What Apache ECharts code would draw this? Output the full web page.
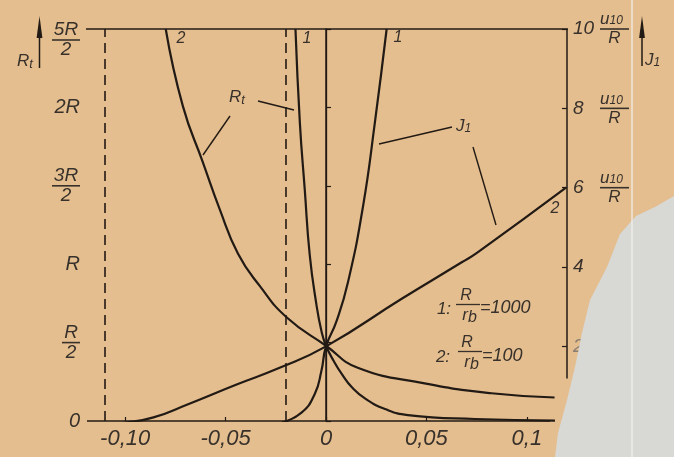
<!DOCTYPE html>
<html>
<head>
<meta charset="utf-8">
<script src="https://cdn.jsdelivr.net/npm/echarts@6/dist/echarts.min.js"></script>
<style>
  html, body { margin: 0; padding: 0; background: #e4be8f; }
  #chart { width: 674px; height: 457px; }
</style>
</head>
<body>
<div id="chart"></div>
<script>
// Bias axis ticks (V)
const xTicks = [-0.10, -0.05, 0, 0.05, 0.1];
const xTickLabels = ['-0,10', '-0,05', '0', '0,05', '0,1'];

// Left axis: R_t in units of R
const rTicks = [0, 0.5, 1, 1.5, 2, 2.5];
const rTickNum = ['0', 'R', 'R', '3R', '2R', '5R'];
const rTickDen = ['', '2', '', '2', '', '2'];

// Right axis: J_1 in units of u10/R
const jTicks = [2, 4, 6, 8, 10];
const jTickLabels = ['2', '4', '6', '8', '10'];
const jTickUnit = [false, false, true, true, true];

// Marked bias values (dashed verticals)
const dashedX = [-0.112, -0.0229];

// R_t curves, [bias, R_t / R]
const rtCurve1 = [[-0.0152, 2.5], [-0.0130, 1.90], [-0.0106, 1.48], [-0.0081, 1.06], [-0.0048, 0.745],
  [-0.0023, 0.575], [0, 0.48], [0.0040, 0.379], [0.0080, 0.297], [0.0129, 0.215], [0.0199, 0.139],
  [0.0294, 0.076], [0.0408, 0.038], [0.0742, 0.0126], [0.114, 0.003]];
const rtCurve2 = [[-0.0798, 2.5], [-0.0713, 2.01], [-0.0613, 1.65], [-0.0529, 1.35], [-0.0438, 1.067],
  [-0.0329, 0.86], [-0.0195, 0.66], [0, 0.48], [0.0158, 0.34], [0.0491, 0.24], [0.0824, 0.177], [0.1138, 0.15]];

// J_1 curves, [bias, J_1 in u10/R]
const jCurve1 = [[-0.022, 0.08], [-0.0122, 0.33], [-0.0056, 0.8], [-0.0023, 1.38], [0, 2.0],
  [0.0052, 2.63], [0.011, 3.63], [0.0185, 5.55], [0.0243, 7.63], [0.0302, 10.0]];
const jCurve2 = [[-0.112, 0.02], [-0.0997, 0.08], [-0.0859, 0.21], [-0.0693, 0.53], [-0.0445, 1.04],
  [-0.0231, 1.46], [0, 2.0], [0.0377, 3.2], [0.0676, 4.12], [0.0755, 4.37], [0.1195, 6.0]];

const INK = '#221a14';
const TEXT = '#38312b';
const FONT = '"Liberation Sans", Arial, sans-serif';
const PAPER = '#e4be8f';

const chart = echarts.init(document.getElementById('chart'), null, { renderer: 'canvas' });

function curve(name, data, yAxisIndex) {
  return {
    name, type: 'line', data, yAxisIndex,
    showSymbol: false, smooth: 0.5, clip: true,
    lineStyle: { color: INK, width: 2.2 }, silent: true, animation: false
  };
}

const rtRich = {
  s:   { fontFamily: FONT, fontStyle: 'italic', fontSize: 20, color: TEXT, lineHeight: 20 },
  nA:  { fontFamily: FONT, fontStyle: 'italic', fontSize: 19, color: TEXT, lineHeight: 16, width: 18, align: 'center' },
  nB:  { fontFamily: FONT, fontStyle: 'italic', fontSize: 19, color: TEXT, lineHeight: 16, width: 28, align: 'center' },
  barA: { width: 18, height: 1.6, lineHeight: 4, backgroundColor: TEXT },
  barB: { width: 28, height: 1.6, lineHeight: 4, backgroundColor: TEXT },
  top: { height: 22, lineHeight: 22, width: 1 }
};

const jRich = {
  v:   { fontFamily: FONT, fontStyle: 'italic', fontSize: 19, color: TEXT, width: 27, lineHeight: 4 },
  vf:  { fontFamily: FONT, fontStyle: 'italic', fontSize: 19, color: '#8a7e72', width: 27 },
  vs:  { width: 27, lineHeight: 15 },
  u:   { fontFamily: FONT, fontStyle: 'italic', fontSize: 17, color: TEXT, lineHeight: 15 },
  sub: { fontFamily: FONT, fontStyle: 'italic', fontSize: 12, color: TEXT, lineHeight: 15, verticalAlign: 'bottom' },
  bar: { width: 29, height: 1.6, lineHeight: 4, backgroundColor: TEXT },
  d:   { fontFamily: FONT, fontStyle: 'italic', fontSize: 17, color: TEXT, lineHeight: 15, width: 29, align: 'center' }
};

const option = {
  animation: false,
  backgroundColor: PAPER,
  grid: { left: 87, top: 25, right: 107, bottom: 36, containLabel: false },
  xAxis: {
    type: 'value', min: -0.119, max: 0.12,
    axisLine: { show: false },
    splitLine: { show: false },
    axisTick: { show: true, inside: true, length: 4, customValues: xTicks, lineStyle: { color: INK, width: 1.2 } },
    axisLabel: {
      customValues: xTicks, margin: 7,
      fontFamily: FONT, fontStyle: 'italic', fontSize: 22, color: TEXT,
      formatter: v => {
        const i = xTicks.findIndex(t => Math.abs(t - v) < 1e-9);
        return i >= 0 ? xTickLabels[i] : '';
      }
    }
  },
  yAxis: [
    {
      type: 'value', min: 0, max: 2.5, interval: 0.5,
      axisLine: { show: true, lineStyle: { color: INK, width: 1.5 } },
      splitLine: { show: false },
      axisTick: { show: true, inside: true, length: 5, lineStyle: { color: INK, width: 1.2 } },
      axisLabel: {
        margin: 7, rich: rtRich,
        formatter: v => {
          const i = rTicks.findIndex(t => Math.abs(t - v) < 1e-9);
          if (i < 0) return '';
          const num = rTickNum[i], den = rTickDen[i];
          if (!den) return '{s|' + num + '}';
          const k = num.length > 1 ? 'B' : 'A';
          const body = '{n' + k + '|' + num + '}\n{bar' + k + '|}\n{n' + k + '|' + den + '}';
          return i === rTicks.length - 1 ? '{top|}\n' + body : body;
        }
      }
    },
    {
      type: 'value', min: 0.12, max: 10, position: 'right',
      axisLine: { show: false },
      splitLine: { show: false },
      axisTick: { show: true, inside: true, length: 5, customValues: jTicks, lineStyle: { color: INK, width: 1.2 } },
      axisLabel: {
        customValues: jTicks, margin: 6, rich: jRich,
        formatter: v => {
          const i = jTicks.findIndex(t => Math.abs(t - v) < 1e-9);
          if (i < 0) return '';
          if (!jTickUnit[i]) return (i === 0 ? '{vf|' : '{v|') + jTickLabels[i] + '}';
          return '{vs|}{u|u}{sub|10}\n{v|' + jTickLabels[i] + '}{bar|}\n{vs|}{d|R}';
        }
      }
    }
  ],
  series: [
    Object.assign(curve('Rt1', rtCurve1, 0), {
      markLine: {
        silent: true, symbol: 'none', label: { show: false }, animation: false,
        data: [
          { xAxis: 0, lineStyle: { color: INK, width: 1.3, type: 'solid' } },
          ...dashedX.map(x => ({ xAxis: x, lineStyle: { color: INK, width: 1.6, type: [10, 6] } }))
        ]
      }
    }),
    curve('Rt2', rtCurve2, 0),
    curve('J1_1', jCurve1, 1),
    curve('J1_2', jCurve2, 1)
  ]
};

chart.setOption(option);

// Frame, annotations, axis titles
const P = (x, y) => chart.convertToPixel({ xAxisIndex: 0, yAxisIndex: 0 }, [x, y]);
const PJ = (x, y) => chart.convertToPixel({ xAxisIndex: 0, yAxisIndex: 1 }, [x, y]);
const topL = P(-0.119, 2.5), topR = P(0.12, 2.5);
const botL = P(-0.119, 0), botR = P(0.1116, 0);
const rTop = PJ(0.12, 10), rBot = PJ(0.12, 1.19);

const lineEl = (x1, y1, x2, y2, w, color) => ({
  type: 'line', silent: true, z: 50,
  shape: { x1, y1, x2, y2 }, style: { stroke: color || INK, lineWidth: w || 1.5 }
});
const textEl = (x, y, text, opts) => ({
  type: 'text', silent: true, z: 60, x, y,
  style: Object.assign({
    text, fill: TEXT, font: 'italic 16px ' + FONT, textAlign: 'center', textVerticalAlign: 'middle'
  }, opts || {})
});
const subText = (x, y, main, sub, subSize) => ({
  type: 'text', silent: true, z: 60, x, y,
  style: { text: '{a|' + main + '}{b|' + sub + '}', rich: {
    a: { font: 'italic 17px ' + FONT, fill: TEXT, lineHeight: 16 },
    b: { font: 'italic ' + subSize + 'px ' + FONT, fill: TEXT, lineHeight: 16, padding: [6, 0, 0, 0] } } }
});

const graphics = [
  // torn paper edge
  {
    type: 'polygon', silent: true, z: 1,
    shape: { points: [[674, 196], [655, 207], [636, 216], [620, 234], [607, 267], [590, 300], [582, 333],
      [575, 367], [567, 400], [558, 433], [555, 457], [674, 457]] },
    style: { fill: '#d8d8d5' }
  },
  lineEl(632, 0, 632, 457, 1.2, '#f4f2ee'),
  // frame
  lineEl(topL[0] - 1, topL[1], topR[0] + 1, topR[1], 1.5),
  lineEl(botL[0], botL[1], botR[0], botR[1], 1.5),
  lineEl(rTop[0], rTop[1], rBot[0], rBot[1], 1.5),
  // axis titles with arrows
  lineEl(39.5, 36, 39.5, 68, 1.5),
  { type: 'polygon', silent: true, z: 50, shape: { points: [[39.5, 16], [36.6, 38], [42.4, 38]] }, style: { fill: INK } },
  subText(17, 53, 'R', 't', 13),
  lineEl(642, 36, 642, 66, 1.5),
  { type: 'polygon', silent: true, z: 50, shape: { points: [[642, 16], [639.1, 38], [644.9, 38]] }, style: { fill: INK } },
  subText(645, 52, 'J', '1', 12),
  // curve numbers
  textEl(181, 39, '2'),
  textEl(307, 39, '1'),
  textEl(398, 38, '1'),
  textEl(555, 209, '2'),
  // curve names with leaders
  subText(229, 89, 'R', 't', 13),
  lineEl(258, 101, 294, 110, 1.4),
  lineEl(230, 116, 203, 155, 1.4),
  subText(456, 118, 'J', '1', 12),
  lineEl(452, 127, 379, 144, 1.4),
  lineEl(473, 147, 496, 225, 1.4),
  // resistance ratio key
  textEl(444, 309, '1:', { font: 'italic 17px ' + FONT }),
  textEl(466, 296, 'R', { font: 'italic 16px ' + FONT }),
  lineEl(456, 304.5, 480, 304.5, 1.3, TEXT),
  textEl(468, 315, 'r', { font: 'italic 17px ' + FONT, textAlign: 'right' }),
  textEl(468, 318, 'b', { font: 'italic 16px ' + FONT, textAlign: 'left' }),
  textEl(480, 308, '=1000', { font: 'italic 18px ' + FONT, textAlign: 'left' }),
  textEl(443, 357, '2:', { font: 'italic 17px ' + FONT }),
  textEl(467, 343, 'R', { font: 'italic 16px ' + FONT }),
  lineEl(458, 351.5, 482, 351.5, 1.3, TEXT),
  textEl(470, 362, 'r', { font: 'italic 17px ' + FONT, textAlign: 'right' }),
  textEl(470, 365, 'b', { font: 'italic 16px ' + FONT, textAlign: 'left' }),
  textEl(482, 356, '=100', { font: 'italic 18px ' + FONT, textAlign: 'left' })
];

chart.setOption({ graphic: graphics });
</script>
</body>
</html>
